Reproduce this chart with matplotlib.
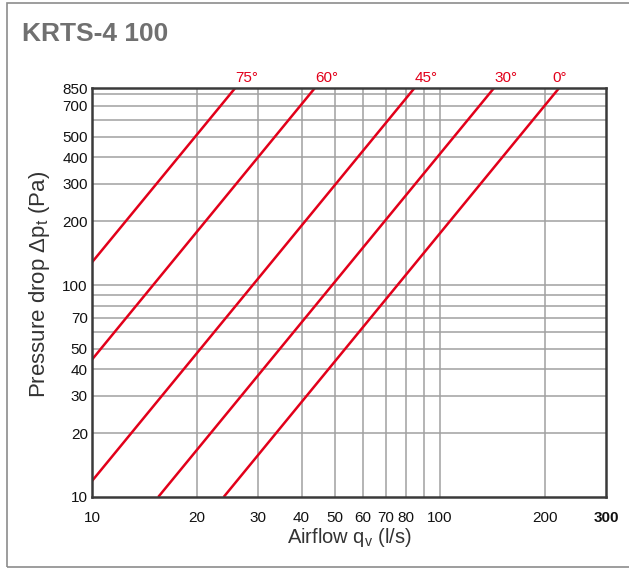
import matplotlib.pyplot as plt
from matplotlib.patches import Rectangle
from matplotlib.ticker import FixedLocator, FixedFormatter, NullFormatter

plt.rcParams['font.family'] = ['Liberation Sans', 'DejaVu Sans']
plt.rcParams['mathtext.fontset'] = 'custom'
plt.rcParams['mathtext.rm'] = 'Liberation Sans'

# damper angle curves, endpoints (airflow l/s, pressure Pa)
angles = ['75°', '60°', '45°', '30°', '0°']
q_start = [10, 10, 10, 15.5, 23.9]
p_start = [128, 44.5, 11.9, 10, 10]
q_end = [25.8, 43.7, 84.5, 143, 220]
p_end = [850, 850, 850, 850, 850]

y_grid = [20, 30, 40, 50, 60, 70, 80, 90, 100, 200, 300, 400, 500, 600, 700, 800]
y_ticks = [10, 20, 30, 40, 50, 70, 100, 200, 300, 400, 500, 700, 850]
x_grid = [20, 30, 40, 50, 60, 70, 80, 90, 100, 200]
x_ticks = [10, 20, 30, 40, 50, 60, 70, 80, 100, 200, 300]

fig = plt.figure(figsize=(6.29, 5.70), dpi=100)
# outer frame
fig.patches.append(Rectangle((7 / 629, 3 / 570), 640 / 629, 564 / 570,
                             transform=fig.transFigure, fill=False,
                             edgecolor='#8c8c8c', linewidth=1.2))
fig.text(22 / 629, 1 - 34 / 570, 'KRTS-4 100', fontsize=19, fontweight='bold',
         color='#707070', va='center', ha='left')

ax = fig.add_axes([92 / 629, 1 - 497 / 570, 514 / 629, 409 / 570])
ax.set_xscale('log')
ax.set_yscale('log')
ax.set_xlim(10, 300)
ax.set_ylim(10, 850)

for g in y_grid:
    ax.axhline(g, color='#a0a0a0', linewidth=1.1, zorder=1)
for g in x_grid:
    ax.axvline(g, color='#a0a0a0', linewidth=1.1, zorder=1)

for a, q1, p1, q2, p2 in zip(angles, q_start, p_start, q_end, p_end):
    ax.plot([q1, q2], [p1, p2], color='#e2001a', linewidth=1.8, zorder=3,
            solid_capstyle='butt')
    ha = 'center' if a == '0°' else 'left'
    ax.text(q2, 850 * 1.03, a, color='#e2001a', fontsize=11, ha=ha, va='bottom')

ax.xaxis.set_major_locator(FixedLocator(x_ticks))
ax.xaxis.set_major_formatter(FixedFormatter([str(t) for t in x_ticks]))
ax.xaxis.set_minor_formatter(NullFormatter())
ax.xaxis.set_minor_locator(FixedLocator([]))
ax.yaxis.set_major_locator(FixedLocator(y_ticks))
ax.yaxis.set_major_formatter(FixedFormatter([str(t) for t in y_ticks]))
ax.yaxis.set_minor_formatter(NullFormatter())
ax.yaxis.set_minor_locator(FixedLocator([]))
ax.tick_params(axis='both', length=0, labelsize=11, labelcolor='#111111')
ax.tick_params(axis='x', pad=10)
ax.tick_params(axis='y', pad=3)
ax.get_xticklabels()[-1].set_fontweight('bold')

for s in ax.spines.values():
    s.set_color('#3a3a3a')
    s.set_linewidth(1.8)
    s.set_zorder(4)

ax.set_xlabel('Airflow q$_\\mathregular{v}$ (l/s)', fontsize=14.5, color='#333333',
              labelpad=1)
ax.set_ylabel('Pressure drop $\\Delta$p$_\\mathregular{t}$ (Pa)', fontsize=16,
              color='#333333')
ax.yaxis.set_label_coords(-0.078, 0.52)

fig.savefig('out.png', dpi=100)
